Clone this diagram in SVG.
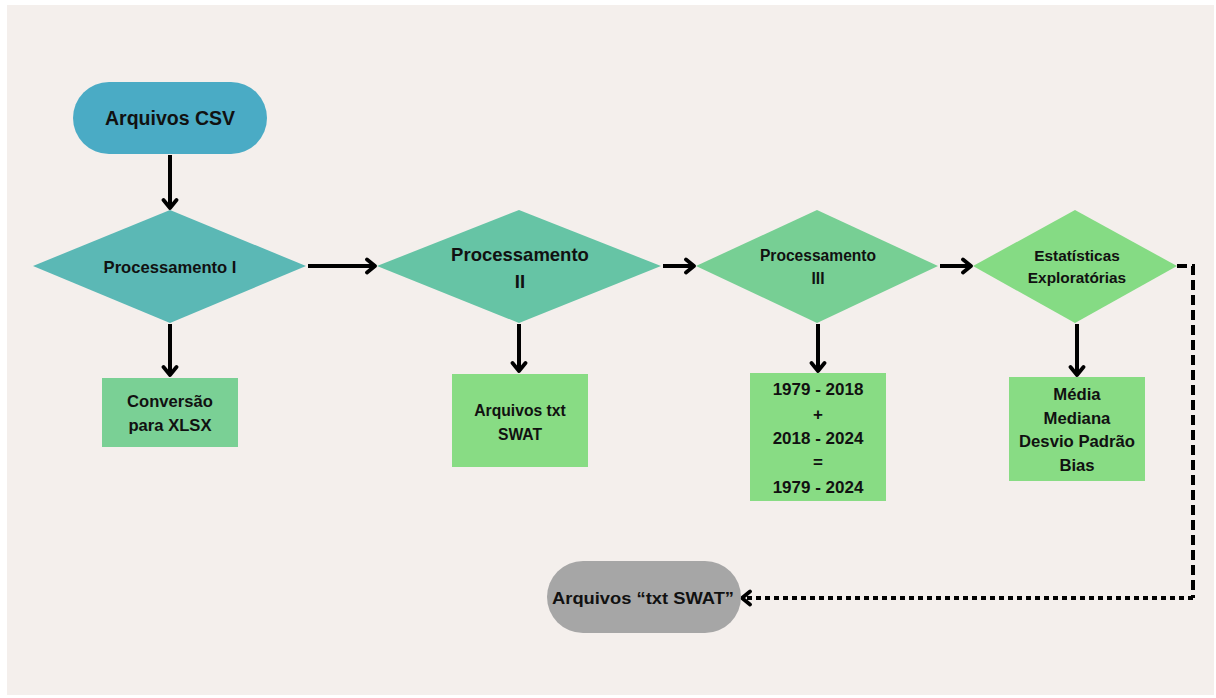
<svg xmlns="http://www.w3.org/2000/svg" width="1216" height="698" viewBox="0 0 1216 698">
<defs>
<marker id="chev" markerUnits="userSpaceOnUse" markerWidth="18" markerHeight="18" viewBox="0 0 18 18" refX="13" refY="9" orient="auto">
<path d="M5,2.5 L13,9 L5,15.5" fill="none" stroke="#000" stroke-width="3.8" stroke-linecap="round" stroke-linejoin="round"/>
</marker>
</defs>
<style>
text{font-family:"Liberation Sans",Arial,sans-serif;font-weight:bold;fill:#111;text-anchor:middle;dominant-baseline:central}
.c{fill:none;stroke:#000;stroke-width:4}
</style>
<rect width="1216" height="698" fill="#fff"/>
<rect x="7" y="5" width="1207" height="690" fill="#f4efec"/>
<g id="connectors">
<line class="c" x1="170" y1="155" x2="170" y2="208" marker-end="url(#chev)"/>
<line class="c" x1="170" y1="324" x2="170" y2="375" marker-end="url(#chev)"/>
<line class="c" x1="308" y1="266" x2="375" y2="266" marker-end="url(#chev)"/>
<line class="c" x1="519" y1="324" x2="519" y2="371" marker-end="url(#chev)"/>
<line class="c" x1="663" y1="266" x2="694" y2="266" marker-end="url(#chev)"/>
<line class="c" x1="818" y1="324" x2="818" y2="371" marker-end="url(#chev)"/>
<line class="c" x1="940" y1="266" x2="971" y2="266" marker-end="url(#chev)"/>
<line class="c" x1="1077" y1="324" x2="1077" y2="375" marker-end="url(#chev)"/>
<path class="c" d="M1177,266 H1193 V598" stroke-dasharray="10,5"/>
<path class="c" d="M1193,598 H742" stroke-dasharray="5,4" marker-end="url(#chev)"/>
</g>
<g id="n-csv">
<rect x="73" y="82" width="194" height="72" rx="36" fill="#4aabc5"/>
<text x="170" y="118" font-size="19.5">Arquivos CSV</text>
</g>
<g id="n-proc1">
<polygon points="33,266 170,210 306,266 170,323" fill="#5bb8b5"/>
<text x="170" y="267" font-size="16.6">Processamento I</text>
</g>
<g id="n-conv">
<rect x="102" y="378" width="136" height="69" fill="#7ad095"/>
<text x="170" y="401" font-size="16.6">Conversão</text>
<text x="170" y="425" font-size="16.6">para XLSX</text>
</g>
<g id="n-proc2">
<polygon points="377,266 519,210 661,266 519,323" fill="#66c4a5"/>
<text x="520" y="254" font-size="18.5">Processamento</text>
<text x="520" y="281" font-size="18.5">II</text>
</g>
<g id="n-txt">
<rect x="452" y="374" width="136" height="93" fill="#88dc84"/>
<text x="520" y="410" font-size="15.7">Arquivos txt</text>
<text x="520" y="434" font-size="15.7">SWAT</text>
</g>
<g id="n-proc3">
<polygon points="696,266 817,210 938,266 817,323" fill="#77cf94"/>
<text x="818" y="255" font-size="15.6">Processamento</text>
<text x="818" y="278" font-size="15.6">III</text>
</g>
<g id="n-dates">
<rect x="750" y="373" width="136" height="128" fill="#88dc84"/>
<text x="818" y="389" font-size="17">1979 - 2018</text>
<text x="818" y="414" font-size="17">+</text>
<text x="818" y="438" font-size="17">2018 - 2024</text>
<text x="818" y="462" font-size="17">=</text>
<text x="818" y="487" font-size="17">1979 - 2024</text>
</g>
<g id="n-stats">
<polygon points="973,266 1075,210 1177,266 1075,323" fill="#85db84"/>
<text x="1077" y="255" font-size="15.4">Estatísticas</text>
<text x="1077" y="277" font-size="15.4">Exploratórias</text>
</g>
<g id="n-measures">
<rect x="1009" y="377" width="136" height="104" fill="#88dc84"/>
<text x="1077" y="394" font-size="16.7">Média</text>
<text x="1077" y="418" font-size="16.7">Mediana</text>
<text x="1077" y="441" font-size="16.7">Desvio Padrão</text>
<text x="1077" y="465" font-size="16.7">Bias</text>
</g>
<g id="n-out">
<rect x="547" y="561" width="194" height="72" rx="36" fill="#a6a6a6"/>
<text x="643" y="598" font-size="17" textLength="182" lengthAdjust="spacingAndGlyphs">Arquivos “txt SWAT”</text>
</g>
</svg>
